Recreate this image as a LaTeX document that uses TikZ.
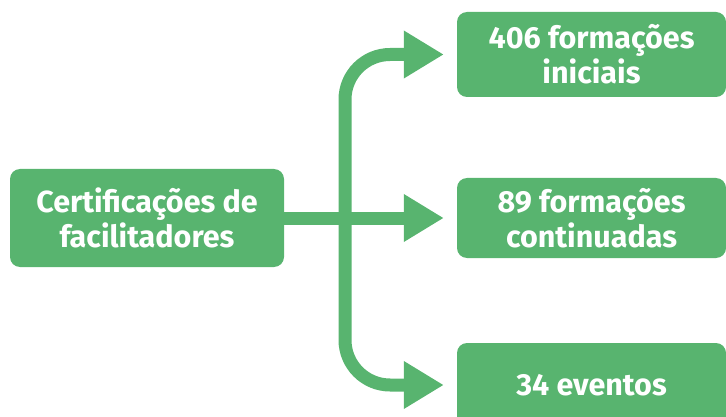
\documentclass[tikz,border=0pt]{standalone}
\usepackage{fontspec}
\setmainfont{Fira Sans}
\usepackage{xcolor}
\usetikzlibrary{arrows.meta}
\definecolor{certgreen}{RGB}{88,180,111}

\begin{document}
\begin{tikzpicture}[x=1pt, y=-1pt,
        box/.style={rounded corners=10pt, fill=certgreen, text=white, inner sep=0pt,
            font=\fontsize{30.5}{35}\selectfont\bfseries, align=center},
        flow/.style={certgreen, line width=13pt, -{Triangle[length=40pt, width=45pt]}, shorten >=13pt}]
        \useasboundingbox (0,0) rectangle (726,417);
        % Source
        \node[box, minimum width=274pt, minimum height=98pt] (cert) at (147,218) {Certificações de\\facilitadores};
        
        % Results
        \node[box, minimum width=269pt, minimum height=85pt] (initial) at (591.5,54.5) {406 formações\\iniciais};
        \node[box, minimum width=269pt, minimum height=80pt] (continued) at (591.5,218) {89 formações\\continuadas};
        \node[box, minimum width=269pt, minimum height=84pt] (events) at (591.5,385) {34 eventos};
        
        % Branches
        \coordinate (fork) at (345,218);
        \draw[flow] (cert.east) -- (continued.west);
        \draw[flow, rounded corners=45pt] (fork) |- (initial.west);
        \draw[flow, rounded corners=45pt] (fork) |- (events.west);
    \end{tikzpicture}
\end{document}
